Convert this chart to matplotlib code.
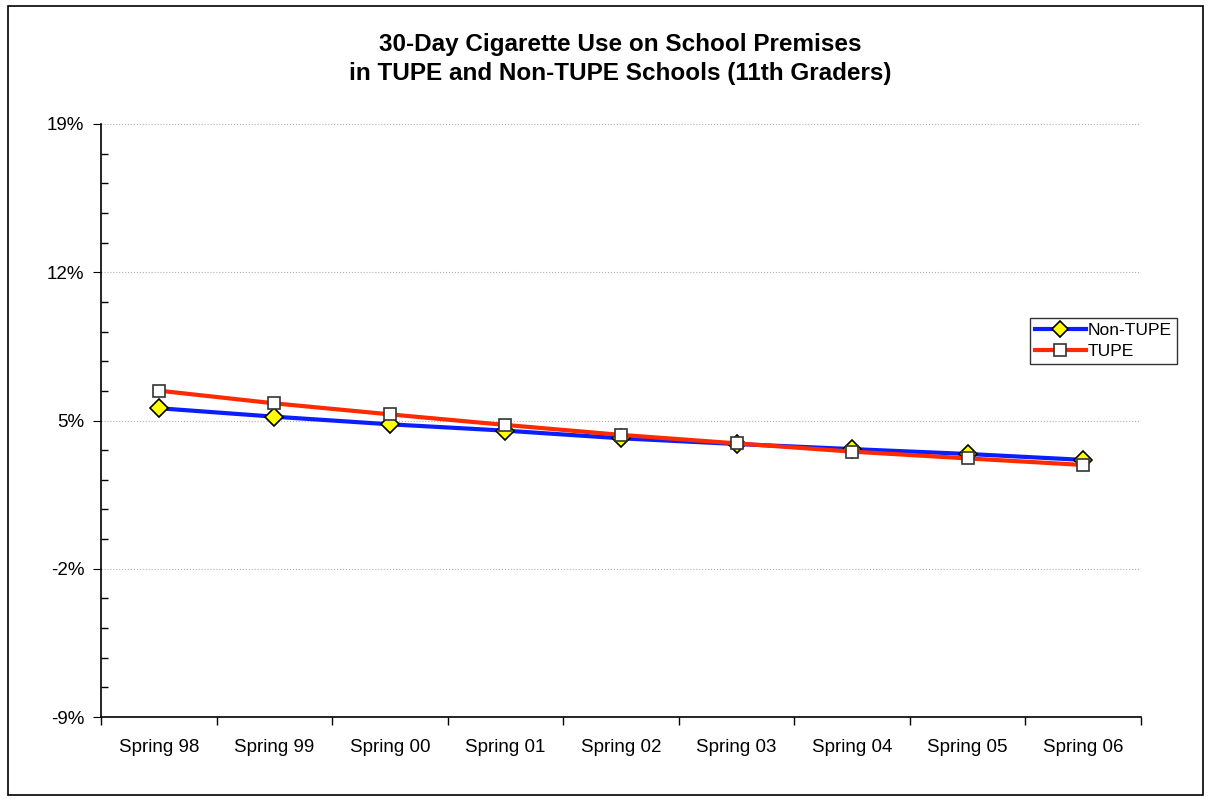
import matplotlib
matplotlib.use("Agg")
import matplotlib.pyplot as plt
from matplotlib.ticker import FixedLocator, FuncFormatter
from matplotlib.patches import Rectangle

categories = ["Spring 98", "Spring 99", "Spring 00", "Spring 01", "Spring 02",
              "Spring 03", "Spring 04", "Spring 05", "Spring 06"]
non_tupe = [5.58, 5.18, 4.82, 4.52, 4.16, 3.89, 3.65, 3.42, 3.14]
tupe = [6.41, 5.81, 5.29, 4.79, 4.32, 3.92, 3.53, 3.21, 2.90]
y_ticks = [-9, -2, 5, 12, 19]
title = "30-Day Cigarette Use on School Premises\nin TUPE and Non-TUPE Schools (11th Graders)"

plt.rcParams['font.family'] = ['Liberation Sans', 'DejaVu Sans']

fig = plt.figure(figsize=(12.09, 8.02), dpi=100)
ax = fig.add_axes([101/1209, 1-717/802, 1040/1209, 593/802])

x = list(range(len(categories)))
ax.plot(x, non_tupe, color='#0a1eff', lw=3, marker='D', ms=8.7,
        mfc='#ffff00', mec='black', mew=1.2, label='Non-TUPE', zorder=3)
ax.plot(x, tupe, color='#ff2a00', lw=3, marker='s', ms=8.7,
        mfc='white', mec='#333333', mew=1.2, label='TUPE', zorder=4)

ax.set_xlim(-0.5, len(categories) - 0.5)
ax.set_ylim(-9, 19)
ax.set_xticks(x)
ax.set_xticklabels(categories, fontsize=13.5)
ax.xaxis.set_minor_locator(FixedLocator([i - 0.5 for i in range(len(categories) + 1)]))
ax.tick_params(axis='x', which='major', length=0, pad=16)
ax.tick_params(axis='x', which='minor', length=6, direction='out', width=1)

ax.set_yticks(y_ticks)
ax.yaxis.set_major_formatter(FuncFormatter(lambda v, p: f"{v:.0f}%"))
ax.yaxis.set_minor_locator(FixedLocator([v for v in
    [-9 + 1.4 * k for k in range(21)] if all(abs(v - t) > 0.01 for t in y_ticks)]))
ax.tick_params(axis='y', which='major', length=6, direction='out', labelsize=13.5, pad=6)
ax.tick_params(axis='y', which='minor', length=5, direction='in', width=1)

ax.grid(axis='y', which='major', color='#b0b0b0', linestyle=':', linewidth=0.8)
ax.set_axisbelow(True)
for s in ['top', 'right']:
    ax.spines[s].set_visible(False)
for s in ['left', 'bottom']:
    ax.spines[s].set_linewidth(1.2)

fig.text(0.513, 1-59/802, title, ha='center', va='center', fontsize=17.5,
         fontweight='bold', linespacing=1.3)

leg = ax.legend(loc='upper left', bbox_to_anchor=(1030/1209, 1-318/802),
                bbox_transform=fig.transFigure, frameon=True, fancybox=False,
                edgecolor='black', fontsize=12.5, handlelength=2.9,
                handletextpad=0.1, borderpad=0.3, labelspacing=0.3,
                borderaxespad=0)
leg.get_frame().set_linewidth(1.0)
for h in leg.legend_handles:
    h.set_markersize(8)

fig.patches.append(Rectangle((8/1209, 1-795/802), 1195/1209, 789/802,
                             transform=fig.transFigure, fill=False,
                             edgecolor='black', linewidth=1.2))

fig.savefig("out.png", dpi=100)
